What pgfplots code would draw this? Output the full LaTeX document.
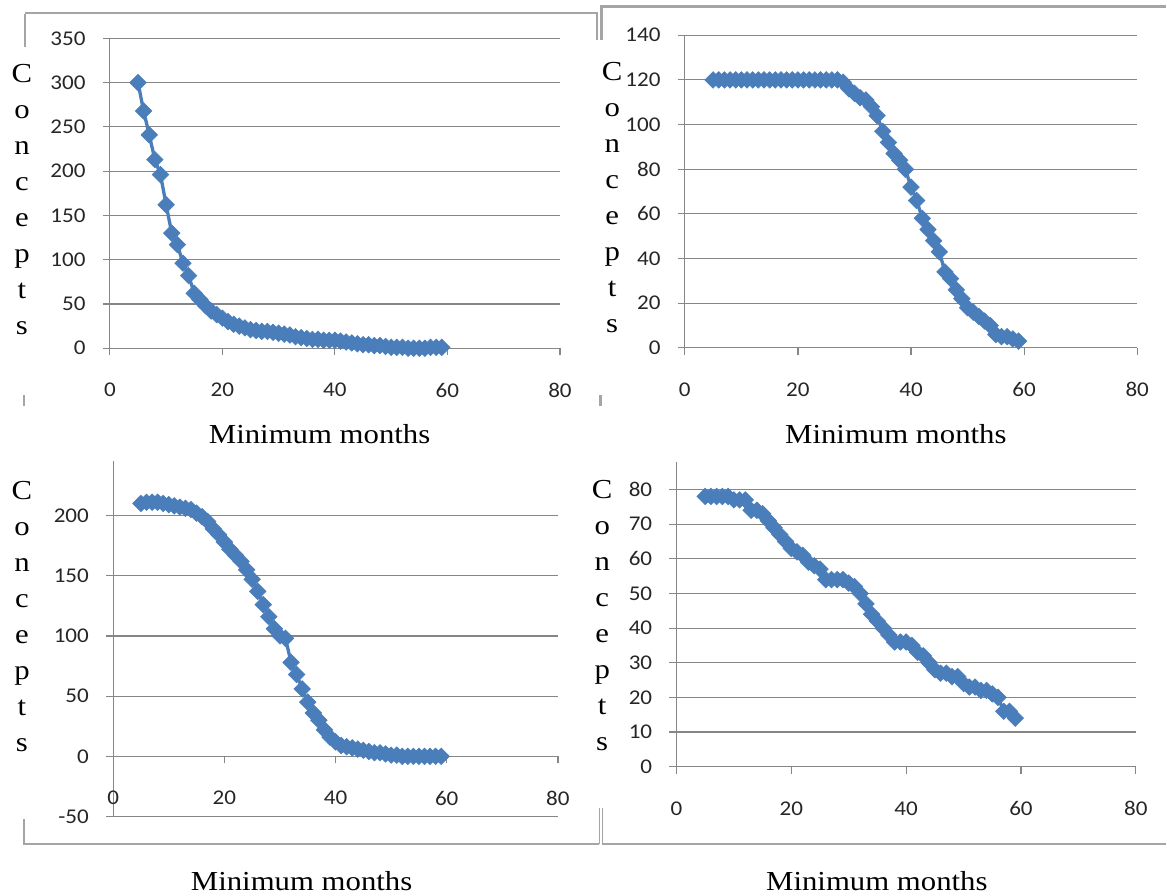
\documentclass[border=0pt]{standalone}
\usepackage{pgfplots}
\pgfplotsset{compat=1.18}
\usepackage{fontspec}
\setmainfont{Liberation Serif}[FakeStretch=1.12]
\newfontfamily\tickfont{Carlito}[FakeStretch=1.1]
\definecolor{exblue}{RGB}{74,126,187}
\definecolor{gridgray}{RGB}{134,134,134}
\definecolor{framegray}{RGB}{165,165,165}

\pgfplotstableread{
x y
5 300
6 268
7 241
8 213
9 196
10 162
11 130
12 117
13 96
14 82
15 62
16 55
17 48
18 42
19 38
20 34
21 30
22 27
23 25
24 23
25 21
26 20
27 19
28 19
29 18
30 17
31 16
32 15
33 13
34 12
35 11
36 10
37 10
38 9
39 9
40 9
41 8
42 7
43 6
44 5
45 4
46 4
47 3
48 3
49 2
50 1
51 1
52 1
53 0
54 0
55 0
56 0
57 1
58 1
59 1
}\dataA

\pgfplotstableread{
x y
5 120
6 120
7 120
8 120
9 120
10 120
11 120
12 120
13 120
14 120
15 120
16 120
17 120
18 120
19 120
20 120
21 120
22 120
23 120
24 120
25 120
26 120
27 120
28 119
29 116
30 114
31 112
32 111
33 108
34 104
35 97
36 92
37 87
38 84
39 80
40 72
41 66
42 58
43 53
44 48
45 43
46 34
47 31
48 26
49 22
50 18
51 16
52 14
53 12
54 10
55 6
56 5
57 5
58 4
59 3
}\dataB

\pgfplotstableread{
x y
5 210
6 211
7 211
8 211
9 210
10 209
11 208
12 207
13 206
14 205
15 202
16 199
17 195
18 189
19 184
20 178
21 172
22 167
23 162
24 155
25 147
26 137
27 126
28 116
29 106
30 100
31 98
32 78
33 68
34 56
35 45
36 36
37 30
38 22
39 16
40 12
41 9
42 8
43 7
44 6
45 5
46 4
47 3
48 3
49 2
50 1
51 1
52 0
53 0
54 0
55 0
56 0
57 0
58 0
59 0
}\dataC

\pgfplotstableread{
x y
5 78
6 78
7 78
8 78
9 78
10 77
11 77
12 77
13 74
14 74
15 73
16 71
17 69
18 67
19 65
20 63
21 62
22 61
23 59
24 58
25 57
26 54
27 54
28 54
29 54
30 53
31 52
32 50
33 47
34 44
35 42
36 40
37 38
38 36
39 36
40 36
41 35
42 33
43 32
44 30
45 28
46 27
47 27
48 26
49 26
50 24
51 23
52 23
53 22
54 22
55 21
56 20
57 16
58 16
59 14
}\dataD

\pgfplotsset{
  exstyle/.style={
    scale only axis, anchor=south west,
    xmin=0, xmax=80, xtick={0,20,40,60,80},
    axis line style={gridgray, line width=0.7pt},
    tick style={gridgray, line width=0.7pt},
    tick align=outside, major tick length=4.2pt,
    ymajorgrids, grid style={gridgray, line width=0.7pt},
    tick label style={font=\tickfont\fontsize{12.6}{14}\selectfont, text=black!85, inner sep=0pt},
    /pgf/number format/assume math mode=true,
    yticklabel style={anchor=east, xshift=-10.2pt},
    xticklabel style={anchor=north, yshift=-16.5pt},
    clip=false,
  },
  exline/.style={color=exblue, line width=2pt, mark=square*, mark size=3.5pt,
    mark options={solid, rotate=45, fill=exblue, draw=exblue, line width=0.4pt}},
}

\newcommand{\concepts}{C\\o\\n\\c\\e\\p\\t\\s}

\begin{document}
\begin{tikzpicture}
\path (0,0) rectangle (700.2pt,538.2pt);
% decorative frames
\draw[framegray, line width=1.2pt] (15pt,530pt) -- (15pt,510pt);
\draw[framegray, line width=1.2pt] (15pt,530.4pt) -- (358.8pt,530.4pt) -- (358.8pt,514pt);
\draw[framegray, line width=1.8pt] (361.2pt,514pt) -- (361.2pt,534pt) -- (700.2pt,534pt);
\draw[framegray, line width=1pt] (14.4pt,301pt) -- (14.4pt,294pt);
\draw[framegray, line width=1.8pt] (360.6pt,301pt) -- (360.6pt,294pt);
\draw[framegray, line width=1pt] (14.4pt,46pt) -- (14.4pt,31.2pt) -- (360pt,31.2pt);
\draw[framegray, line width=0.8pt] (360pt,53pt) -- (360pt,31.2pt);
\draw[framegray, line width=0.8pt] (361.8pt,53pt) -- (361.8pt,31.2pt) -- (700.2pt,31.2pt);

% Panel 1
\begin{axis}[exstyle, at={(66pt,328.98pt)}, width=270.4pt, height=186.2pt,
  ymin=0, ymax=350, ytick={0,50,...,350}, axis lines*=left]
\addplot[exline] table[x=x,y=y] {\dataA};
\end{axis}
% Panel 2
\begin{axis}[exstyle, at={(411.42pt,329.22pt)}, width=271.8pt, height=187.8pt,
  ymin=0, ymax=140, ytick={0,20,...,140}, axis lines*=left]
\addplot[exline] table[x=x,y=y] {\dataB};
\end{axis}
% Panel 3
\begin{axis}[exstyle, at={(67.98pt,47.64pt)}, width=267.2pt, height=213.4pt,
  ymin=-50, ymax=245, ytick={-50,0,50,...,200}, axis x line*=middle, axis y line*=left,
  hide obscured x ticks=false, hide obscured y ticks=false]
\addplot[exline] table[x=x,y=y] {\dataC};
\end{axis}
% Panel 4
\begin{axis}[exstyle, at={(406.38pt,77.58pt)}, width=276pt, height=183.2pt,
  ymin=0, ymax=88, ytick={0,10,...,80}, axis lines*=left]
\addplot[exline] table[x=x,y=y] {\dataD};
\end{axis}

\tikzset{lab/.style={font=\fontsize{16.5}{21.6}\selectfont, inner sep=0pt},
  conc/.style={lab, align=center, anchor=north}}
\node[lab] at (192pt,277.2pt) {Minimum months};
\node[lab] at (538.2pt,277.2pt) {Minimum months};
\node[lab] at (181.2pt,9pt) {Minimum months};
\node[lab] at (526.8pt,9pt) {Minimum months};
\node[conc] at (13.2pt,499.8pt) {\concepts};
\node[conc] at (367.8pt,501pt) {\concepts};
\node[conc] at (13.2pt,249pt) {\concepts};
\node[conc] at (361.8pt,249.6pt) {\concepts};
\end{tikzpicture}
\end{document}
